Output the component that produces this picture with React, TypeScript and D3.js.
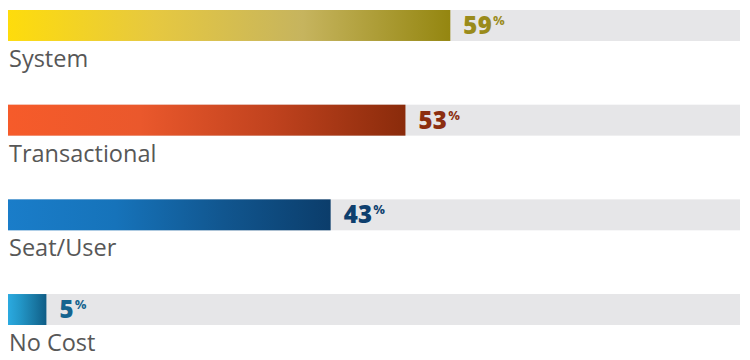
import React, { useEffect, useRef } from "react";
import * as d3 from "d3";

const categories = ["System", "Transactional", "Seat/User", "No Cost"];
const values = [59, 53, 43, 5];
const gradientStops = [
  ["#FEDC0C", "#E6C840", "#C6B45E", "#948610"],
  ["#F65B2A", "#EA582C", "#C0421E", "#8A2B0B"],
  ["#1A7DC9", "#1673BA", "#11568F", "#0B3D6B"],
  ["#2BAAE0", "#2295C6", "#1A7AA6", "#0F5D86"],
];
const valueColors = ["#9A8B1B", "#8C2E10", "#0E3F6E", "#15648F"];

const width = 750;
const height = 360;

export default function App() {
  const ref = useRef<SVGSVGElement>(null);

  useEffect(() => {
    const svg = d3.select(ref.current);
    svg.selectAll("*").remove();

    const x = d3.scaleLinear([0, 100], [9, 757]);
    const y = d3.scaleBand(categories, [10, 325]).paddingInner(0.673).paddingOuter(0);
    const trackLeft = 8;
    const trackRight = 740;

    // gradients, one per bar
    const defs = svg.append("defs");
    categories.forEach((c, i) => {
      const g = defs.append("linearGradient")
        .attr("id", `grad${i}`)
        .attr("x1", "0%").attr("x2", "100%")
        .attr("y1", "0%").attr("y2", "0%");
      const stops = gradientStops[i];
      stops.forEach((col, j) => {
        g.append("stop")
          .attr("offset", `${(j / (stops.length - 1)) * 100}%`)
          .attr("stop-color", col);
      });
    });

    const rows = svg.append("g")
      .selectAll("g")
      .data(categories)
      .join("g")
      .attr("transform", d => `translate(0,${y(d)})`);

    // grey track
    rows.append("rect")
      .attr("x", trackLeft)
      .attr("width", trackRight - trackLeft)
      .attr("height", y.bandwidth())
      .attr("fill", "#E6E6E8");

    rows.append("rect")
      .attr("x", trackLeft)
      .attr("width", (_, i) => x(values[i]) - trackLeft)
      .attr("height", y.bandwidth())
      .attr("fill", (_, i) => `url(#grad${i})`);

    const val = rows.append("text")
      .attr("x", (_, i) => x(values[i]) + 13)
      .attr("y", 24)
      .attr("font-family", "'Open Sans', sans-serif")
      .attr("font-weight", 800)
      .attr("font-size", 24)
      .attr("letter-spacing", 0.3)
      .attr("fill", (_, i) => valueColors[i]);
    val.append("tspan").text((_, i) => values[i]);
    val.append("tspan")
      .attr("font-size", 13)
      .attr("font-weight", 700)
      .attr("dy", -9)
      .attr("dx", 1)
      .text("%");

    rows.append("text")
      .attr("x", 9)
      .attr("y", y.bandwidth() + 26)
      .attr("font-family", "'Open Sans', sans-serif")
      .attr("font-size", 23.5)
      .attr("fill", "#575757")
      .text(d => d);
  }, []);

  return (
    <svg
      ref={ref}
      width={width}
      height={height}
      style={{ position: "absolute", left: 0, top: 0, background: "#fff" }}
    />
  );
}
